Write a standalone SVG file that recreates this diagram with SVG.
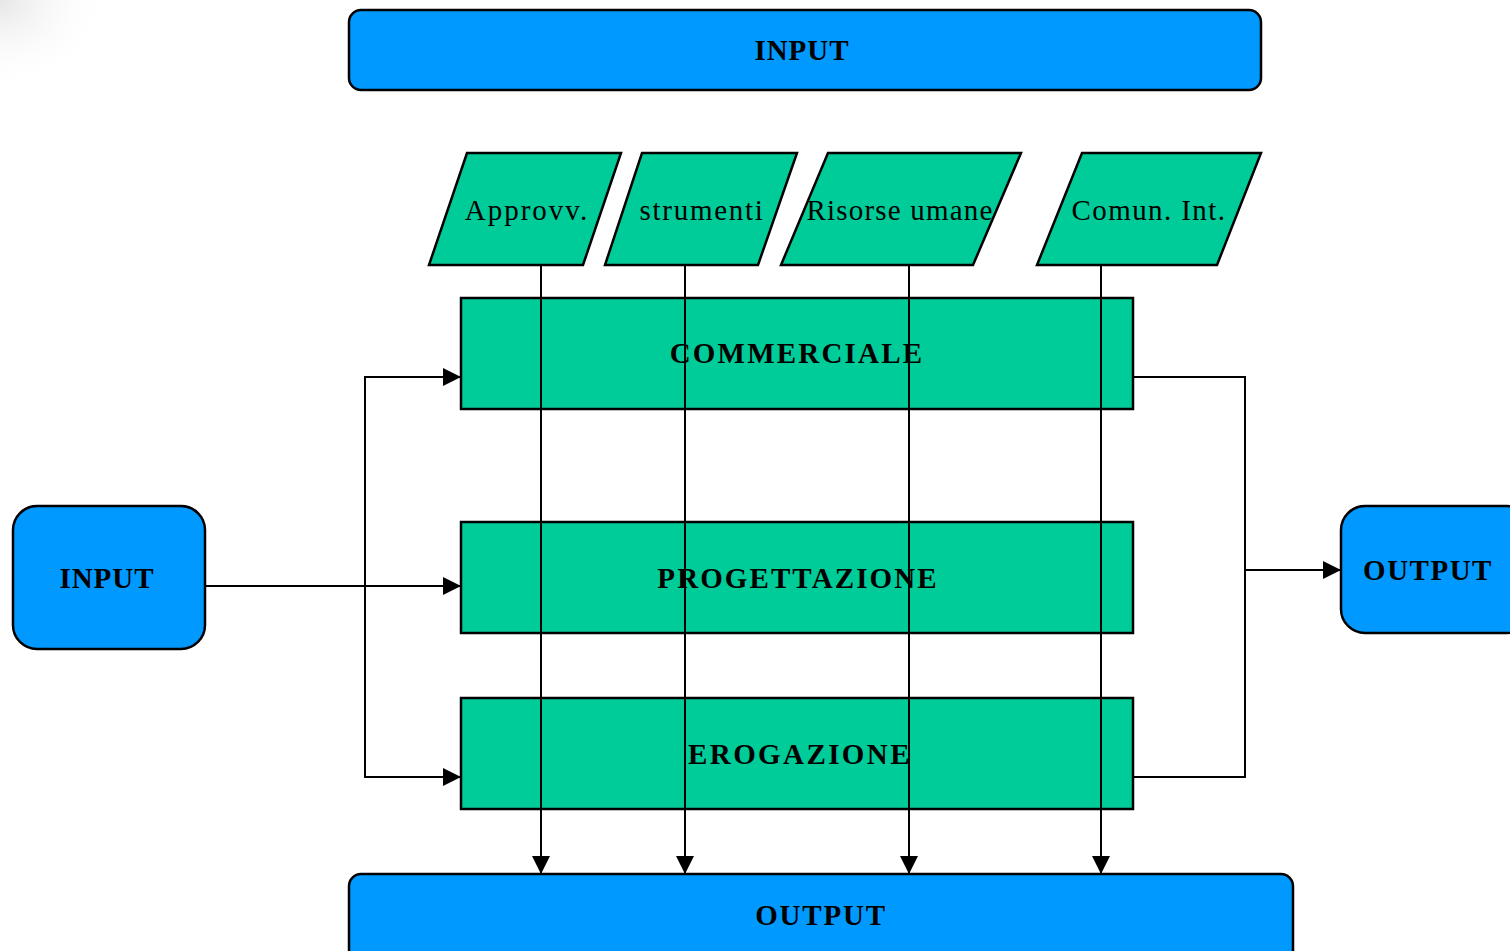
<svg xmlns="http://www.w3.org/2000/svg" width="1510" height="951" viewBox="0 0 1510 951">
<defs>
<style>
.blue{fill:#0099FF;stroke:#000;stroke-width:2.5}
.green{fill:#00CC99;stroke:#000;stroke-width:2.5}
.b{font-family:"Liberation Serif",serif;font-weight:bold;font-size:29px;fill:#000;text-anchor:middle;dominant-baseline:central}
.n{font-family:"Liberation Serif",serif;font-size:29px;fill:#000;text-anchor:middle;dominant-baseline:central}
.c{fill:none;stroke:#000;stroke-width:2}
</style>
<marker id="ar" markerWidth="18" markerHeight="18" refX="18" refY="9" orient="auto" markerUnits="userSpaceOnUse">
<path d="M0,0 L18,9 L0,18 Z" fill="#000"/>
</marker>
<radialGradient id="shade" cx="0" cy="0" r="1">
<stop offset="0" stop-color="#e6e6e6"/>
<stop offset="1" stop-color="#ffffff" stop-opacity="0"/>
</radialGradient>
</defs>
<rect width="1510" height="951" fill="#fff"/>
<rect x="0" y="0" width="110" height="90" fill="url(#shade)"/>

<g id="input-top"><rect class="blue" x="349" y="10" width="912" height="80" rx="12"/><text class="b" x="802" y="50" letter-spacing="1">INPUT</text></g>

<g id="approvv"><polygon class="green" points="467,153 621,153 583,265 429,265"/><text class="n" x="527" y="210" letter-spacing="2">Approvv.</text></g>
<g id="strumenti"><polygon class="green" points="642,153 797,153 758,265 605,265"/><text class="n" x="702" y="210" letter-spacing="1.7">strumenti</text></g>
<g id="risorse"><polygon class="green" points="828,153 1021,153 973,265 781,265"/><text class="n" x="900" y="210" letter-spacing="1.2">Risorse umane</text></g>
<g id="comun"><polygon class="green" points="1082,153 1261,153 1217,265 1037,265"/><text class="n" x="1149" y="210" letter-spacing="1.4">Comun. Int.</text></g>

<g id="commerciale"><rect class="green" x="461" y="298" width="672" height="111"/><text class="b" x="797" y="353" letter-spacing="2.2">COMMERCIALE</text></g>
<g id="progettazione"><rect class="green" x="461" y="522" width="672" height="111"/><text class="b" x="798" y="578" letter-spacing="2.1">PROGETTAZIONE</text></g>
<g id="erogazione"><rect class="green" x="461" y="698" width="672" height="111"/><text class="b" x="800" y="754" letter-spacing="2.4">EROGAZIONE</text></g>

<g id="input-left"><rect class="blue" x="13" y="506" width="192" height="143" rx="24"/><text class="b" x="107" y="578" letter-spacing="1">INPUT</text></g>
<g id="output-right"><rect class="blue" x="1341" y="506" width="190" height="127" rx="24"/><text class="b" x="1428" y="570" letter-spacing="1.5">OUTPUT</text></g>
<g id="output-bottom"><rect class="blue" x="349" y="874" width="944" height="100" rx="12"/><text class="b" x="821" y="915" letter-spacing="1.8">OUTPUT</text></g>

<g id="connectors">
<path class="c" d="M541,265 V874" marker-end="url(#ar)"/>
<path class="c" d="M685,265 V874" marker-end="url(#ar)"/>
<path class="c" d="M909,265 V874" marker-end="url(#ar)"/>
<path class="c" d="M1101,265 V874" marker-end="url(#ar)"/>
<path class="c" d="M205,586 H461" marker-end="url(#ar)"/>
<path class="c" d="M365,586 V377 H461" marker-end="url(#ar)"/>
<path class="c" d="M365,586 V777 H461" marker-end="url(#ar)"/>
<path class="c" d="M1133,377 H1245 V777 H1133"/>
<path class="c" d="M1245,570 H1341" marker-end="url(#ar)"/>
</g>
</svg>
